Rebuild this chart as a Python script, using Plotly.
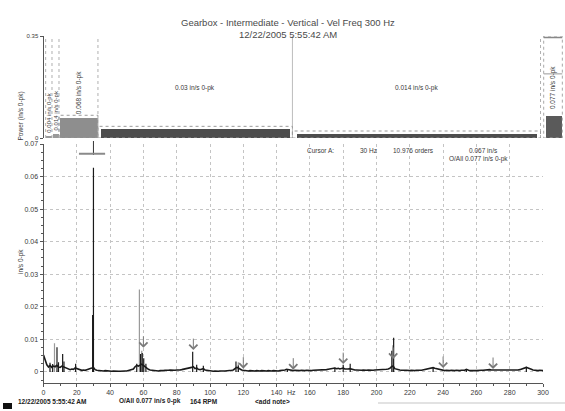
import plotly.graph_objects as go

W, H = 565, 411


def px(x):
    return x / W


def py(y):
    return 1 - y / H


# ---------------- text ----------------
title_main = "Gearbox - Intermediate - Vertical - Vel Freq 300 Hz"
title_time = "12/22/2005 5:55:42 AM"
band_title = "Power (in/s 0-pk)"
amp_title = "in/s 0-pk"
freq_title = "Hz"
status_texts = ["12/22/2005 5:55:42 AM", "O/All 0.077 in/s 0-pk", "164 RPM", "&lt;add note&gt;"]

# ---------------- band power (top strip) ----------------
band_lo = [1.3, 5.1, 9.3, 32.7, 149.5]
band_hi = [5.1, 9.3, 32.7, 149.5, 298.5]
band_val = [0.004, 0.014, 0.068, 0.03, 0.014]
band_color = ["#9a9a9a", "#9a9a9a", "#8e8e8e", "#4d4d4d", "#4d4d4d"]
overall_lo, overall_hi = 301.2, 310.8
overall_val = 0.077

# ---------------- spectrum ----------------
# noise floor, one value per Hz from 0 to 300
floor_amp = [
    0.0052, 0.0036, 0.0022, 0.0015, 0.0020, 0.0014, 0.0018, 0.0016, 0.0020, 0.0015,
    0.0014, 0.0018, 0.0016, 0.0012, 0.0010, 0.0008, 0.0007, 0.0009, 0.0008, 0.0012,
    0.0010, 0.0007, 0.0006, 0.0005, 0.0006, 0.0005, 0.0007, 0.0008, 0.0010, 0.0012,
    0.0014, 0.0007, 0.0005, 0.0004, 0.0005, 0.0004, 0.0003, 0.0004, 0.0003, 0.0004,
    0.0003, 0.0002, 0.0003, 0.0002, 0.0003, 0.0002, 0.0002, 0.0003, 0.0002, 0.0003,
    0.0003, 0.0004, 0.0005, 0.0006, 0.0009, 0.0016, 0.0020, 0.0018, 0.0022, 0.0024,
    0.0020, 0.0015, 0.0012, 0.0008, 0.0006, 0.0005, 0.0004, 0.0005, 0.0004, 0.0003,
    0.0004, 0.0003, 0.0004, 0.0005, 0.0004, 0.0005, 0.0006, 0.0005, 0.0006, 0.0005,
    0.0006, 0.0005, 0.0006, 0.0007, 0.0008, 0.0009, 0.0010, 0.0012, 0.0011, 0.0014,
    0.0016, 0.0010, 0.0012, 0.0008, 0.0007, 0.0009, 0.0010, 0.0006, 0.0005, 0.0004,
    0.0003, 0.0003, 0.0002, 0.0003, 0.0002, 0.0002, 0.0003, 0.0002, 0.0003, 0.0003,
    0.0003, 0.0004, 0.0004, 0.0005, 0.0006, 0.0010, 0.0014, 0.0012, 0.0008, 0.0006,
    0.0005, 0.0004, 0.0004, 0.0003, 0.0004, 0.0003, 0.0004, 0.0003, 0.0004, 0.0003,
    0.0003, 0.0004, 0.0003, 0.0004, 0.0003, 0.0004, 0.0003, 0.0003, 0.0004, 0.0003,
    0.0004, 0.0003, 0.0004, 0.0004, 0.0005, 0.0006, 0.0008, 0.0007, 0.0005, 0.0004,
    0.0004, 0.0005, 0.0004, 0.0005, 0.0004, 0.0005, 0.0004, 0.0004, 0.0005, 0.0004,
    0.0005, 0.0004, 0.0005, 0.0005, 0.0006, 0.0005, 0.0006, 0.0005, 0.0006, 0.0007,
    0.0007, 0.0008, 0.0009, 0.0011, 0.0010, 0.0012, 0.0010, 0.0011, 0.0009, 0.0010,
    0.0012, 0.0009, 0.0008, 0.0009, 0.0010, 0.0008, 0.0007, 0.0006, 0.0006, 0.0005,
    0.0006, 0.0005, 0.0006, 0.0005, 0.0005, 0.0006, 0.0005, 0.0006, 0.0005, 0.0006,
    0.0006, 0.0007, 0.0006, 0.0007, 0.0006, 0.0007, 0.0008, 0.0009, 0.0011, 0.0016,
    0.0018, 0.0010, 0.0008, 0.0007, 0.0006, 0.0005, 0.0006, 0.0005, 0.0005, 0.0004,
    0.0004, 0.0005, 0.0004, 0.0004, 0.0005, 0.0004, 0.0005, 0.0005, 0.0006, 0.0006,
    0.0007, 0.0008, 0.0010, 0.0012, 0.0013, 0.0011, 0.0010, 0.0007, 0.0006, 0.0005,
    0.0005, 0.0004, 0.0005, 0.0004, 0.0004, 0.0005, 0.0004, 0.0004, 0.0005, 0.0004,
    0.0004, 0.0005, 0.0004, 0.0005, 0.0008, 0.0005, 0.0004, 0.0004, 0.0005, 0.0004,
    0.0004, 0.0005, 0.0004, 0.0005, 0.0005, 0.0006, 0.0005, 0.0006, 0.0007, 0.0006,
    0.0006, 0.0005, 0.0005, 0.0004, 0.0005, 0.0004, 0.0004, 0.0005, 0.0004, 0.0004,
    0.0005, 0.0004, 0.0005, 0.0004, 0.0005, 0.0006, 0.0007, 0.0009, 0.0011, 0.0013,
    0.0014, 0.0012, 0.0011, 0.0008, 0.0006, 0.0005, 0.0005, 0.0004, 0.0005, 0.0004, 0.0004,
]
floor_hz = list(range(len(floor_amp)))

# discrete spectral lines
peak_hz = [3.9, 5.5, 8.1, 9.0, 11.5, 12.3, 19.3, 29.5, 30.0, 56.0, 58.3, 59.3, 60.2,
           61.5, 89.6, 92.0, 96.0, 115.6, 117.0, 146.5, 175.0, 180.0, 184.2, 209.2,
           210.3, 234.0, 254.0, 290.0]
peak_amp = [0.0028, 0.0024, 0.0076, 0.0030, 0.0055, 0.0032, 0.0025, 0.0175, 0.0627,
            0.0025, 0.0055, 0.0058, 0.0042, 0.0025, 0.0062, 0.0022, 0.0019, 0.0032,
            0.0020, 0.0009, 0.0013, 0.0022, 0.0025, 0.0065, 0.0105, 0.0014, 0.0009,
            0.0016]

# lines of the reference spectrum (drawn in grey)
ref_hz = [6.6, 57.6, 59.0, 117.0, 209.8]
ref_amp = [0.0088, 0.0253, 0.0065, 0.0030, 0.0082]

# 30 Hz harmonic markers and where the arrows point
harm_hz = [60, 90, 120, 150, 180, 210, 240, 270]
harm_tip = [0.0074, 0.0067, 0.0010, 0.0007, 0.0024, 0.0040, 0.0012, 0.0009]

# cursor readout
cursor_hz = 30
cursor_amp = 0.067
cursor_texts = ["Cursor A:", "30 Hz", "10.976 orders", "0.067 in/s"]
cursor_overall = "O/All 0.077 in/s 0-pk"

FONT = "Liberation Sans, Arial, sans-serif"
TXT = "#3a3a3a"
GRID = "#c4c4c4"
AX = "#555555"


def spikes(xs, ys):
    sx, sy = [], []
    for f, a in zip(xs, ys):
        sx += [f, f, None]
        sy += [0, a, None]
    return sx, sy


fig = go.Figure()

# ---- top strip: band bars ----
centers = [(a + b) / 2 for a, b in zip(band_lo, band_hi)]
widths = [(b - a) * 0.97 for a, b in zip(band_lo, band_hi)]
fig.add_trace(go.Bar(x=centers, y=band_val, width=widths, xaxis="x2", yaxis="y2",
                     marker=dict(color=band_color, line=dict(width=0)), showlegend=False))
fig.add_trace(go.Bar(x=[(overall_lo + overall_hi) / 2], y=[overall_val],
                     width=[overall_hi - overall_lo], xaxis="x2", yaxis="y2",
                     marker=dict(color="#5a5a5a", line=dict(width=0)), showlegend=False))

# ---- spectrum ----
rx, ry = spikes(ref_hz, ref_amp)
fig.add_trace(go.Scatter(x=rx, y=ry, mode="lines", line=dict(color="#9a9a9a", width=1.2),
                         showlegend=False, xaxis="x", yaxis="y"))
sx, sy = spikes(peak_hz, peak_amp)
fig.add_trace(go.Scatter(x=sx, y=sy, mode="lines", line=dict(color="#1a1a1a", width=1.2),
                         showlegend=False, xaxis="x", yaxis="y"))
fig.add_trace(go.Scatter(x=floor_hz, y=floor_amp, mode="lines",
                         line=dict(color="#1a1a1a", width=1.6),
                         showlegend=False, xaxis="x", yaxis="y"))

shapes = []
# band separators in the top strip
for e in [band_lo[0], band_lo[1], band_lo[2], band_lo[3], band_hi[-1]]:
    shapes.append(dict(type="line", xref="x2", yref="y2", x0=e, x1=e, y0=0, y1=0.35,
                       line=dict(color="#b0b0b0", width=1, dash="dot")))
shapes.append(dict(type="line", xref="x2", yref="y2", x0=band_hi[3], x1=band_hi[3],
                   y0=0, y1=0.35, line=dict(color="#bdbdbd", width=1)))
# dotted outlines around the band bars
for a, b, v in zip(band_lo[2:], band_hi[2:], band_val[2:]):
    shapes.append(dict(type="rect", xref="x2", yref="y2", x0=a, x1=b, y0=0, y1=v + 0.01,
                       line=dict(color="#9a9a9a", width=1, dash="dot")))
# overall box
shapes.append(dict(type="rect", xref="x2", yref="y2", x0=overall_lo - 0.8, x1=overall_hi + 0.8,
                   y0=0, y1=0.35, line=dict(color="#a8a8a8", width=1, dash="dot")))
shapes.append(dict(type="line", xref="x2", yref="y2", x0=overall_lo - 0.8, x1=overall_hi + 0.8,
                   y0=0.345, y1=0.345, line=dict(color="#888888", width=1.5)))
shapes.append(dict(type="line", xref="x2", yref="y2", x0=overall_lo - 0.8, x1=overall_hi + 0.8,
                   y0=0.22, y1=0.22, line=dict(color="#999999", width=1)))
# cursor marker
shapes.append(dict(type="line", xref="x", yref="paper", x0=cursor_hz, x1=cursor_hz,
                   y0=py(155), y1=py(141), line=dict(color="#333333", width=1)))
shapes.append(dict(type="line", xref="x", yref="y", x0=cursor_hz - 8.7, x1=cursor_hz + 7,
                   y0=cursor_amp, y1=cursor_amp, line=dict(color="#8a8a8a", width=2)))
# status bar
shapes.append(dict(type="rect", xref="paper", yref="paper", x0=px(3), x1=px(12),
                   y0=py(409), y1=py(403), fillcolor="#111111", line=dict(width=0)))
shapes.append(dict(type="line", xref="paper", yref="paper", x0=px(378), x1=1,
                   y0=py(403), y1=py(403), line=dict(color="#e2e2e2", width=2)))

ann = []
ann.append(dict(text=title_main, x=px(288), y=py(15), xref="paper", yref="paper",
                showarrow=False, font=dict(size=9.5, color="#4a4a4a", family=FONT)))
ann.append(dict(text=title_time, x=px(288), y=py(27.5), xref="paper", yref="paper",
                showarrow=False, font=dict(size=9.5, color="#4a4a4a", family=FONT)))
ann.append(dict(text=band_title, x=px(15), y=py(90), xref="paper", yref="paper",
                textangle=-90, showarrow=False, font=dict(size=6.5, color=TXT, family=FONT)))
ann.append(dict(text=amp_title, x=px(15), y=py(262), xref="paper", yref="paper",
                textangle=-90, showarrow=False, font=dict(size=6.5, color=TXT, family=FONT)))
ann.append(dict(text=freq_title, x=px(291), y=py(398), xref="paper", yref="paper",
                showarrow=False, font=dict(size=7, color=TXT, family=FONT)))

# band labels
for i, (c, v) in enumerate(zip(centers, band_val)):
    label = f"{v:g} in/s 0-pk"
    if i < 3:
        ann.append(dict(text=label, x=c, y=v, xref="x2", yref="y2", textangle=-90,
                        yanchor="bottom", yshift=2, showarrow=False,
                        font=dict(size=6 if i < 2 else 6.5, color=TXT, family=FONT)))
    else:
        ann.append(dict(text=label, x=c, y=0.17, xref="x2", yref="y2", showarrow=False,
                        font=dict(size=6.5, color=TXT, family=FONT)))
ann.append(dict(text=f"{overall_val:g} in/s 0-pk", x=(overall_lo + overall_hi) / 2,
                y=overall_val, xref="x2", yref="y2", textangle=-90, yanchor="bottom",
                yshift=4, showarrow=False, font=dict(size=6.5, color=TXT, family=FONT)))

# cursor readout
for t, cx in zip(cursor_texts, [320, 368, 436, 500]):
    ann.append(dict(text=t, x=px(cx), y=py(150), xref="paper", yref="paper",
                    showarrow=False, font=dict(size=6.5, color=TXT, family=FONT)))
ann.append(dict(text=cursor_overall, x=px(510), y=py(159), xref="paper", yref="paper",
                showarrow=False, font=dict(size=6.5, color=TXT, family=FONT)))

# harmonic arrows
for h, t in zip(harm_hz, harm_tip):
    ann.append(dict(x=h, y=t, xref="x", yref="y", text="", showarrow=True, ax=0, ay=-13,
                    arrowhead=4, arrowsize=1.6, arrowwidth=1, arrowcolor="#7a7a7a"))

# status line
for t, sxp in zip(status_texts, [16, 117, 188, 253]):
    ann.append(dict(text=f"<b>{t}</b>", x=px(sxp), y=py(406.5), xref="paper", yref="paper",
                    xanchor="left", showarrow=False,
                    font=dict(size=6.5, color="#222222", family=FONT)))

fig.update_layout(
    template="none",
    width=W, height=H, margin=dict(l=0, r=0, t=0, b=0, pad=0, autoexpand=False),
    paper_bgcolor="white", plot_bgcolor="white", showlegend=False,
    font=dict(family=FONT, size=7, color=TXT),
    bargap=0,
    xaxis=dict(domain=[px(43.5), px(543)], range=[0, 300], anchor="y", automargin=False,
               tickvals=list(range(0, 301, 20)), showgrid=True, gridcolor=GRID,
               griddash="dot", gridwidth=1, zeroline=False, showline=True,
               linecolor=AX, linewidth=1, ticks="outside", ticklen=3, tickcolor=AX,
               tickfont=dict(size=7, color=TXT),
               minor=dict(dtick=10, ticks="outside", ticklen=2, tickcolor=AX, showgrid=False)),
    yaxis=dict(domain=[py(383), py(144)], range=[-0.0034, 0.07], anchor="x", automargin=False,
               tickvals=[0, 0.01, 0.02, 0.03, 0.04, 0.05, 0.06, 0.07],
               ticktext=["0", "0.01", "0.02", "0.03", "0.04", "0.05", "0.06", "0.07"],
               showgrid=True, gridcolor=GRID, griddash="dot", zeroline=False,
               showline=True, linecolor=AX, linewidth=1, ticks="outside", ticklen=3,
               tickcolor=AX, tickfont=dict(size=7, color=TXT),
               minor=dict(dtick=0.0025, ticks="outside", ticklen=2, tickcolor=AX,
                          showgrid=False)),
    xaxis2=dict(domain=[px(43.5), px(563)], range=[0, 312.0], anchor="y2", automargin=False,
                visible=False, showgrid=False),
    yaxis2=dict(domain=[py(138), py(36)], range=[0, 0.35], anchor="x2", automargin=False,
                tickvals=[0, 0.35], ticktext=["0", "0.35"], showgrid=True,
                gridcolor=GRID, griddash="dot", zeroline=False, showline=True,
                linecolor=AX, linewidth=1, ticks="outside", ticklen=3, tickcolor=AX,
                tickfont=dict(size=6, color=TXT)),
    shapes=shapes, annotations=ann,
)

fig.write_html("out.html")
